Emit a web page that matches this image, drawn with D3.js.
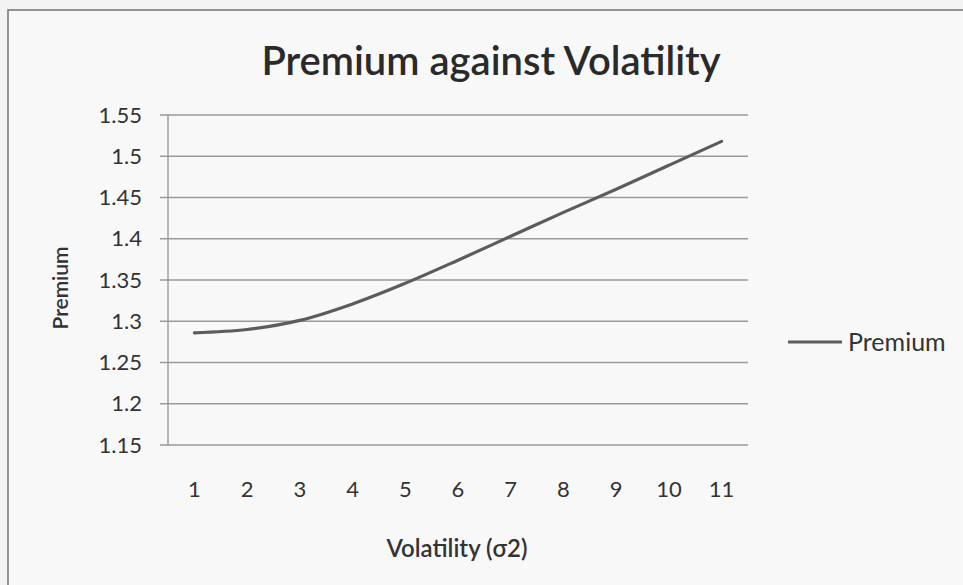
<!DOCTYPE html>
<html>
<head>
<meta charset="utf-8">
<script src="https://cdn.jsdelivr.net/npm/d3@7"></script>
<style>
  html, body { margin: 0; padding: 0; background: #f3f3f3; }
  svg { display: block; }
</style>
</head>
<body>
<svg id="chart" width="963" height="585"></svg>
<script>
// ---- data ----
const categories = ["1", "2", "3", "4", "5", "6", "7", "8", "9", "10", "11"];
const premium = [1.286, 1.290, 1.301, 1.321, 1.346, 1.374, 1.403, 1.432, 1.460, 1.489, 1.518];
const yTicks = [1.15, 1.2, 1.25, 1.3, 1.35, 1.4, 1.45, 1.5, 1.55];
const yTickLabels = ["1.15", "1.2", "1.25", "1.3", "1.35", "1.4", "1.45", "1.5", "1.55"];
const seriesName = "Premium";
const titleText = "Premium against Volatility";
const xTitle = "Volatility (σ2)";
const yTitle = "Premium";

const svg = d3.select("#chart");
const font = "Lato, 'Open Sans', sans-serif";
const textColor = "#333";

// chart area border
svg.append("rect")
  .attr("x", 8).attr("y", 10).attr("width", 1000).attr("height", 620)
  .attr("fill", "#f8f8f8").attr("stroke", "#7a7a7a").attr("stroke-width", 1.6);

const plotLeft = 168, plotRight = 748, plotTop = 115, plotBottom = 445;

const x = d3.scalePoint().domain(categories).range([plotLeft, plotRight]).padding(0.5);
const y = d3.scaleLinear().domain([1.15, 1.55]).range([plotBottom, plotTop]);

// gridlines
svg.append("g").selectAll("line").data(yTicks).join("line")
  .attr("x1", plotLeft - 8).attr("x2", plotRight)
  .attr("y1", d => y(d)).attr("y2", d => y(d))
  .attr("stroke", "#9a9a9a").attr("stroke-width", 1.4);

// vertical axis line
svg.append("line")
  .attr("x1", plotLeft).attr("x2", plotLeft).attr("y1", plotTop).attr("y2", plotBottom)
  .attr("stroke", "#9a9a9a").attr("stroke-width", 1.4);

// y tick labels
svg.append("g").selectAll("text").data(yTicks).join("text")
  .attr("x", 142).attr("y", (d) => y(d))
  .attr("dy", "0.35em")
  .attr("text-anchor", "end")
  .attr("font-family", font).attr("font-size", 22)
  .attr("fill", textColor)
  .text((d, i) => yTickLabels[i]);

// x tick labels
svg.append("g").selectAll("text").data(categories).join("text")
  .attr("x", d => x(d)).attr("y", 489)
  .attr("dy", "0.35em")
  .attr("text-anchor", "middle")
  .attr("font-family", font).attr("font-size", 22)
  .attr("fill", textColor)
  .text(d => d);

// line
const lineGen = d3.line()
  .x((d, i) => x(categories[i]))
  .y(d => y(d))
  .curve(d3.curveMonotoneX);

svg.append("path")
  .datum(premium)
  .attr("d", lineGen)
  .attr("fill", "none")
  .attr("stroke", "#5c5c5c")
  .attr("stroke-width", 3.2)
  .attr("stroke-linecap", "round");

// title
svg.append("text")
  .attr("x", 491).attr("y", 75)
  .attr("text-anchor", "middle")
  .attr("font-family", font).attr("font-size", 40).attr("font-weight", 600)
  .attr("fill", "#2a2a2a")
  .text(titleText);

// x axis title
svg.append("text")
  .attr("x", 457).attr("y", 557)
  .attr("text-anchor", "middle")
  .attr("font-family", font).attr("font-size", 24).attr("font-weight", 600)
  .attr("fill", textColor)
  .text(xTitle);

// y axis title
svg.append("text")
  .attr("transform", "translate(68,288) rotate(-90)")
  .attr("text-anchor", "middle")
  .attr("font-family", font).attr("font-size", 21).attr("font-weight", 600)
  .attr("fill", textColor)
  .text(yTitle);

// legend
svg.append("line")
  .attr("x1", 788).attr("x2", 842).attr("y1", 342).attr("y2", 342)
  .attr("stroke", "#5c5c5c").attr("stroke-width", 3.2);
svg.append("text")
  .attr("x", 848).attr("y", 342).attr("dy", "0.35em")
  .attr("font-family", font).attr("font-size", 25)
  .attr("fill", textColor)
  .text(seriesName);
</script>
</body>
</html>
